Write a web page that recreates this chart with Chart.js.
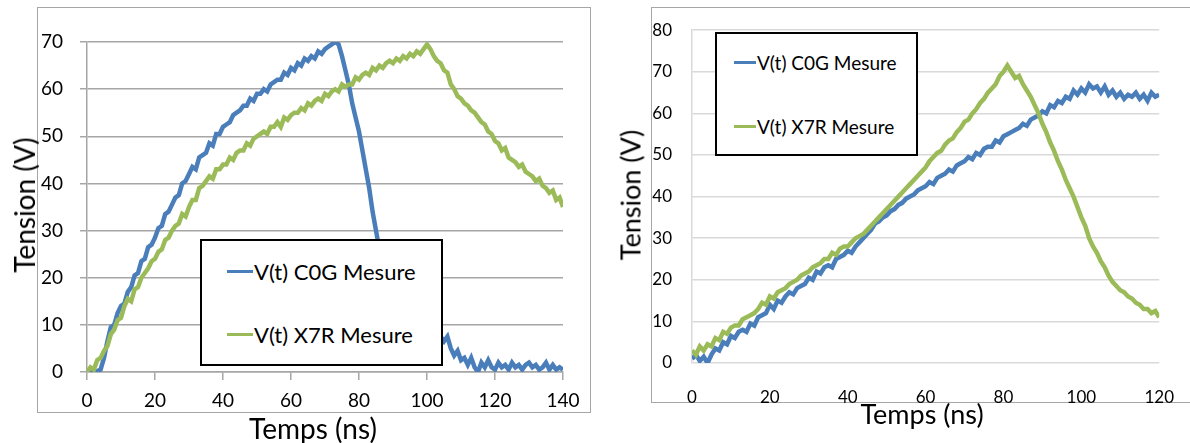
<!DOCTYPE html>
<html lang="fr">
<head>
<meta charset="utf-8">
<title>Tension en fonction du temps - C0G / X7R</title>
<script src="https://cdn.jsdelivr.net/npm/chart.js@4.4.1/dist/chart.umd.min.js"></script>
<style>
  body { margin: 0; background: #fff; width: 1190px; height: 443px; overflow: hidden; position: relative; font-family: Lato, sans-serif; color: #000; }
  .cadre { position: absolute; border: 1px solid #a6a6a6; box-sizing: border-box; }
  canvas { position: absolute; top: 0; }
  .titre { position: absolute; white-space: nowrap; transform: translate(-50%, -50%); line-height: 1; }
  .titre.vertical { transform: translate(-50%, -50%) rotate(-90deg); }
  .legende { position: absolute; border: 2px solid #000; background: #fff; box-sizing: border-box; }
  .item { position: absolute; display: flex; align-items: center; height: 26px; white-space: nowrap; }
  .trait { width: 26px; height: 3px; margin-right: 1px; }
</style>
</head>
<body>

<div class="cadre" style="left:37px; top:7px; width:554px; height:406px;"></div>
<div class="cadre" style="left:651px; top:7px; width:600px; height:396px;"></div>

<canvas id="graphGauche" width="595" height="443" style="left:0;"></canvas>
<canvas id="graphDroite" width="595" height="443" style="left:595px;"></canvas>

<!-- Titres des axes -->
<div class="titre vertical" style="left:24px; top:205px; font-size:28px;">Tension (V)</div>
<div class="titre" style="left:313px; top:428px; font-size:28px;">Temps (ns)</div>
<div class="titre vertical" style="left:630px; top:195px; font-size:27px;">Tension (V)</div>
<div class="titre" style="left:922px; top:413px; font-size:27px;">Temps (ns)</div>

<!-- Légendes -->
<div class="legende" style="left:200px; top:239px; width:243px; height:127px; font-size:22px;">
  <div class="item" style="left:25px; top:17px;"><span class="trait" style="background:#4a7ebb;"></span>V(t) C0G Mesure</div>
  <div class="item" style="left:25px; top:80px;"><span class="trait" style="background:#9bbb59;"></span>V(t) X7R Mesure</div>
</div>
<div class="legende" style="left:715px; top:32px; width:203px; height:124px; font-size:19px;">
  <div class="item" style="left:17px; top:15px;"><span class="trait" style="width:22px; background:#4a7ebb;"></span>V(t) C0G Mesure</div>
  <div class="item" style="left:17px; top:79px;"><span class="trait" style="width:22px; background:#9bbb59;"></span>V(t) X7R Mesure</div>
</div>

<script>
const c0gGauche = [
  0, 0.3, 0, 0.2, 0.5, 3, 6.5, 9.5, 10, 12.5,
  14, 14.5, 17, 18, 20.5, 21, 23.5, 24, 26.5, 27,
  28.5, 30.5, 31, 33.5, 34, 35.5, 37, 37.5, 40, 40.5,
  42, 43.5, 43, 45.5, 46, 46.5, 48.5, 48, 50.5, 50.5,
  52, 52.5, 53, 54.5, 55, 55.5, 56.5, 56.5, 58, 57.5,
  59, 59, 60, 59.5, 61, 61.5, 62, 62, 63.5, 63,
  64.5, 64, 65.5, 65, 66.5, 66, 67, 66.5, 68, 67.5,
  68.5, 69, 69.5, 70, 69.5, 67, 64, 61, 57, 54,
  51, 47, 43, 39, 34, 30, 26, 22, 19, 17,
  15, 14, 13, 12, 11.5, 10.5, 10, 9.5, 9, 8.5,
  8, 8, 7.5, 7, 7.5, 6.5, 7.5, 5, 3.5, 4.5,
  2.5, 3, 1.5, 3, 1, 0, 2, 1, 2.5, 1,
  0.5, 2, 1, 1.5, 0.5, 2, 1, 1.5, 0.5, 1.5,
  2, 1, 1.5, 0.5, 1, 2, 0.5, 1.5, 0.5, 1, 0.5
];
const x7rGauche = [
  0, 1, 0.5, 2.5, 3, 4.5, 5.5, 8, 9, 11,
  11.5, 14, 15.5, 15, 17.5, 18, 20, 21, 22, 23.5,
  24, 25.5, 26, 28, 28.5, 30, 31, 31.5, 33.5, 33,
  35, 36.5, 36.5, 39, 39.5, 40.5, 41.5, 41, 43, 43,
  44, 44, 45.5, 45, 46.5, 47, 47, 48.5, 48, 49.5,
  50, 50.5, 51, 50.5, 52, 52, 53, 52, 54, 53.5,
  54.5, 55, 55, 56, 55.5, 57, 56.5, 57.5, 58, 57.5,
  59, 58.5, 59.5, 60, 59.5, 61, 60.5, 61, 61, 62.5,
  62, 63, 63.5, 63, 64.5, 64, 65, 64.5, 65.5, 66,
  65.5, 66.5, 66, 67, 66.5, 67.5, 67, 68, 67.5, 68.5,
  69.5, 68.5, 67, 66, 65.5, 64, 63.5, 61, 60, 58.5,
  58, 57, 56.5, 55.5, 55, 54, 53, 52.5, 51, 50.5,
  49, 48.5, 47, 47.5, 45.5, 45, 44.5, 43.5, 44, 42.5,
  42, 41.5, 40.5, 41, 39.5, 39, 38, 38.5, 36.5, 37, 35
];

const c0gDroite = [
  1, 2, 0.5, 1.5, 0, 2, 3.5, 3, 5, 4.5,
  6.5, 6, 7.5, 8, 7.5, 9.5, 9, 11, 11.5, 12,
  14, 13, 15, 14.5, 16, 17, 16.5, 18, 18.5, 19,
  20.5, 20, 22, 21.5, 23, 23.5, 23, 25, 25.5, 26,
  27, 26.5, 28, 29, 30, 31, 32, 33.5, 34, 35,
  35.5, 36.5, 37, 38, 38.5, 39.5, 40, 40.5, 41.5, 42,
  42.5, 43.5, 43, 44.5, 45, 45.5, 46.5, 46, 47.5, 48,
  48.5, 49.5, 49, 50.5, 50, 51.5, 52, 52, 53.5, 53,
  54.5, 55, 55.5, 56, 56.5, 57.5, 57, 58.5, 59, 59.5,
  60.5, 60, 62, 61.5, 63, 62.5, 64, 63.5, 65.5, 64.5,
  66, 65, 67, 66, 66.5, 65, 66.5, 64.5, 65.5, 64,
  65, 63.5, 64.5, 64, 65, 63.5, 64.5, 63, 65, 64, 64.5
];
const x7rDroite = [
  3, 2, 4, 3, 4.5, 4, 6, 5.5, 7.5, 7,
  8.5, 9, 9, 10.5, 11, 11.5, 12, 13, 14.5, 14,
  16, 15.5, 17, 17.5, 18, 19, 19.5, 20, 21, 21.5,
  22, 23, 23.5, 24, 25, 25, 26.5, 26, 27.5, 28,
  28, 29, 30, 30.5, 31, 32, 33, 34, 35, 36,
  37, 38, 39, 40, 41, 42, 43, 44, 45, 46,
  47, 48.5, 49.5, 50.5, 51, 52.5, 53.5, 54, 55.5, 56.5,
  58, 58.5, 60, 61, 62.5, 63.5, 65, 66, 67, 69,
  70, 71.5, 70, 68.5, 69, 67, 65.5, 64, 62, 60,
  57.5, 55.5, 53, 51, 48.5, 46.5, 44, 42, 40, 37.5,
  35, 33, 30, 28, 26.5, 24.5, 23, 21, 19.5, 18.5,
  17.5, 17, 16, 15.5, 14.5, 14, 13, 13, 12, 12.5, 11
];

// Instants d'échantillonnage (ns) : un échantillon par ns
const tempsGauche = c0gGauche.map((v, i) => i);
const tempsDroite = c0gDroite.map((v, i) => i);

const couleurC0G = '#4a7ebb';
const couleurX7R = '#9bbb59';

function creerGraphique(id, temps, serieC0G, serieX7R, reglages) {
    const ctx = document.getElementById(id).getContext('2d');
    return new Chart(ctx, {
        type: 'line',
        data: {
            labels: temps,
            datasets: [
                {
                    label: 'V(t) C0G Mesure',
                    data: serieC0G,
                    borderColor: couleurC0G,
                    borderWidth: reglages.epaisseur,
                    pointRadius: 0,
                    order: 1
                },
                {
                    label: 'V(t) X7R Mesure',
                    data: serieX7R,
                    borderColor: couleurX7R,
                    borderWidth: reglages.epaisseur,
                    pointRadius: 0,
                    order: 0
                }
            ]
        },
        options: {
            responsive: false,
            animation: false,
            events: [],
            layout: { padding: reglages.marges },
            plugins: {
                legend: { display: false },
                tooltip: { enabled: false }
            },
            scales: {
                x: {
                    type: 'linear',
                    min: 0,
                    max: reglages.xMax,
                    ticks: {
                        stepSize: 20,
                        color: '#000',
                        padding: reglages.xPadding,
                        maxRotation: 0,
                        font: { family: 'Lato', size: reglages.taillePolice }
                    },
                    grid: reglages.grilleX,
                    border: reglages.bordX,
                    afterFit: (scale) => { scale.height = reglages.hauteurX; }
                },
                y: {
                    min: 0,
                    max: reglages.yMax,
                    ticks: {
                        stepSize: 10,
                        color: '#000',
                        padding: reglages.yPadding,
                        font: { family: 'Lato', size: reglages.taillePolice }
                    },
                    grid: reglages.grilleY,
                    border: reglages.bordY,
                    afterFit: (scale) => { scale.width = reglages.largeurY; }
                }
            }
        }
    });
}

// Graphe de gauche : grille grise, petites graduations
creerGraphique('graphGauche', tempsGauche, c0gGauche, x7rGauche, {
    epaisseur: 4.5,
    marges: { top: 42, right: 32, left: 0, bottom: 0 },
    xMax: 140,
    yMax: 70,
    taillePolice: 19,
    xPadding: 9,
    yPadding: 17,
    hauteurX: 71,
    largeurY: 87,
    grilleX: { drawOnChartArea: false, tickLength: 8, color: '#a6a6a6', lineWidth: 1.5 },
    grilleY: { tickLength: 7, color: '#a6a6a6', lineWidth: 1.5 },
    bordX: { display: true, color: '#a6a6a6', width: 1.5 },
    bordY: { display: true, color: '#a6a6a6', width: 1.5 }
});

// Graphe de droite : grille claire, sans graduations
creerGraphique('graphDroite', tempsDroite, c0gDroite, x7rDroite, {
    epaisseur: 4.5,
    marges: { top: 19, right: 23, left: 0, bottom: 0 },
    xMax: 120,
    yMax: 80,
    taillePolice: 17,
    xPadding: 16,
    yPadding: 20,
    hauteurX: 80,
    largeurY: 97,
    grilleX: { display: false },
    grilleY: { drawTicks: false, color: '#d9d9d9', lineWidth: 1.5 },
    bordX: { display: false },
    bordY: { display: true, color: '#d9d9d9', width: 1.5 }
});
</script>
</body>
</html>
